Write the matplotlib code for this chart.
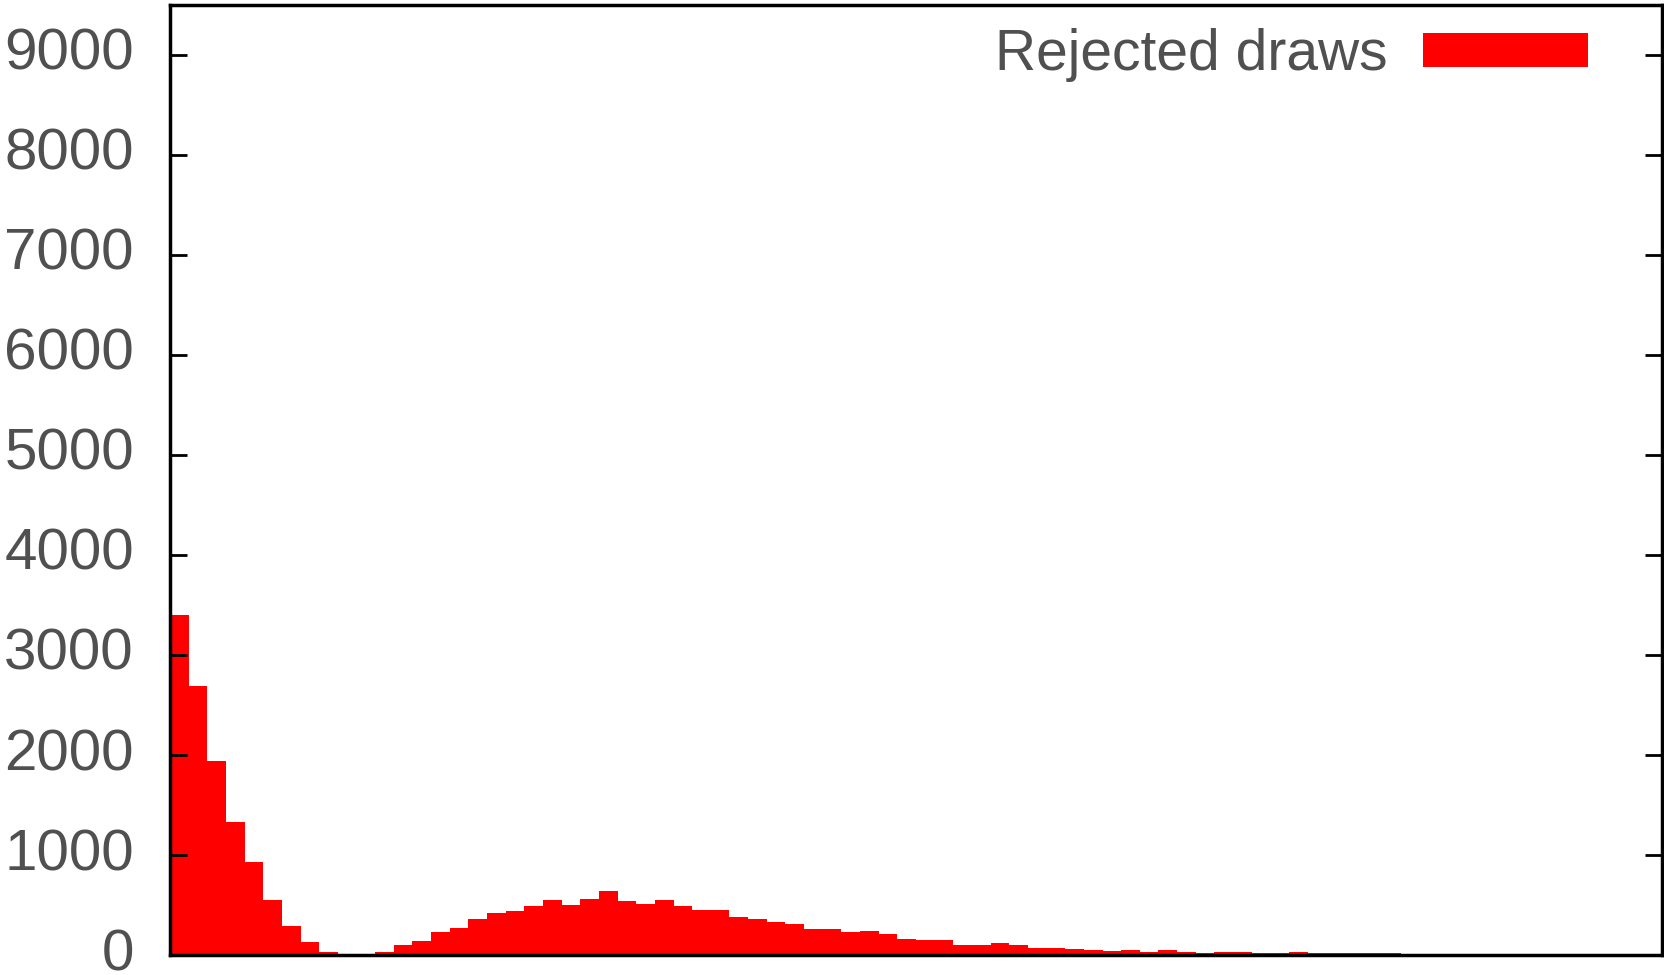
import numpy as np
import matplotlib
matplotlib.use("Agg")
import matplotlib.pyplot as plt

plt.rcParams['font.family'] = ['Liberation Sans', 'DejaVu Sans']

# counts per histogram bin
counts = [3400, 2690, 1945, 1335, 935, 555, 295, 135, 35, 5,
          5, 30, 105, 140, 230, 270, 365, 425, 445, 490,
          555, 505, 560, 645, 545, 515, 555, 495, 450, 455,
          385, 365, 330, 315, 265, 265, 235, 245, 215, 165,
          155, 155, 105, 105, 125, 105, 75, 70, 60, 55,
          45, 55, 35, 50, 35, 25, 30, 30, 20, 20,
          27, 17, 17, 17, 20, 20, 12, 10, 6, 6,
          10, 5, 5, 5, 5, 5]
n_bins = 80
yticks = [0, 1000, 2000, 3000, 4000, 5000, 6000, 7000, 8000, 9000]
label = 'Rejected draws'

text_col = '#505050'

fig = plt.figure(figsize=(16.65, 9.75), dpi=100)
ax = fig.add_axes([0.1021, 0.0205, 0.8961, 0.9744])

bins = np.arange(len(counts))
ax.bar(bins, counts, width=1.0, align='edge', color='#ff0000', linewidth=0, label=label)

ax.set_xlim(0, n_bins)
ax.set_ylim(0, 9500)
ax.set_xticks([])
ax.set_yticks(yticks)
ax.tick_params(axis='y', direction='in', length=12, width=2, left=True, right=True,
               labelsize=42, labelcolor=text_col, pad=26)
for t in ax.get_yticklabels():
    t.set_va('center')

for s in ax.spines.values():
    s.set_linewidth(2.5)
    s.set_color('black')

ax.legend(loc='upper right', bbox_to_anchor=(0.9505, 0.976), frameon=False,
          markerfirst=False, fontsize=41, labelcolor=text_col,
          handlelength=2.9, handleheight=0.54, handletextpad=0.62,
          borderpad=0, borderaxespad=0)

fig.savefig('out.png', dpi=100)
